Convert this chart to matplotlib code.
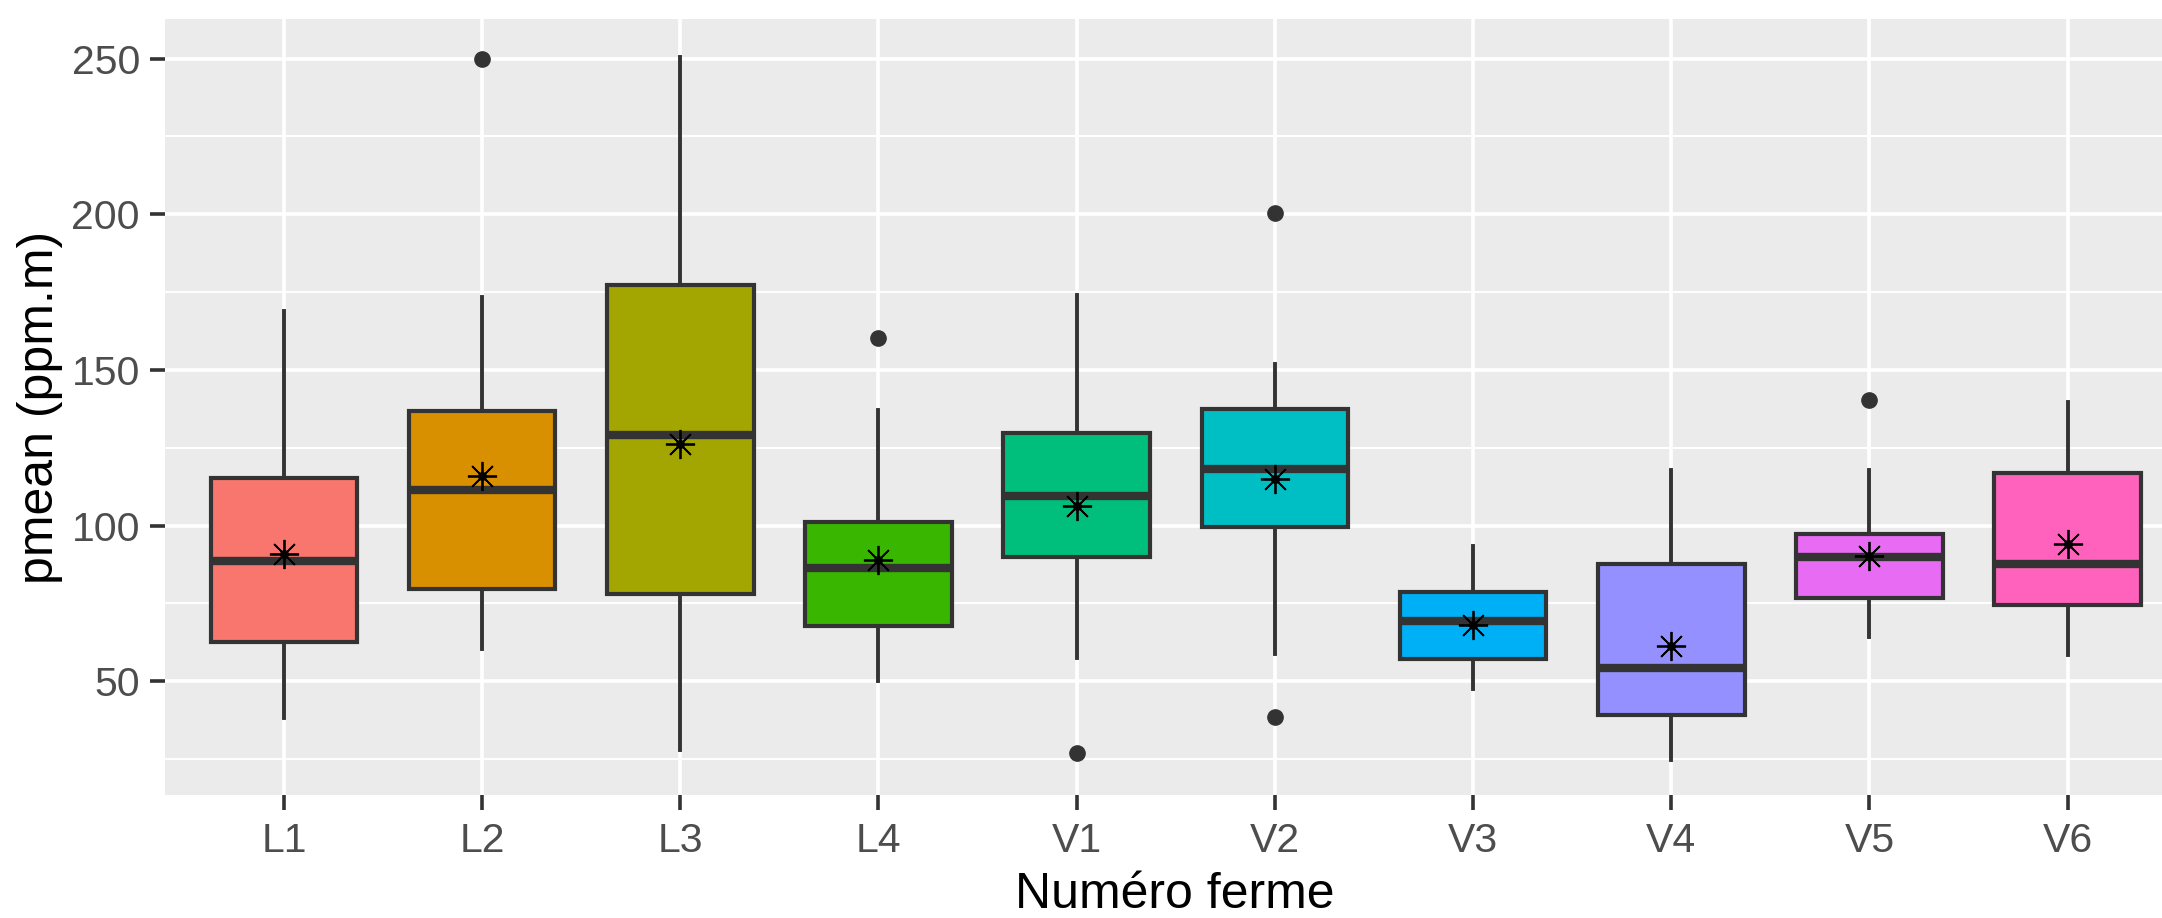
import matplotlib
matplotlib.use("Agg")
import matplotlib.pyplot as plt

# values
farms = ["L1", "L2", "L3", "L4", "V1", "V2", "V3", "V4", "V5", "V6"]
whisker_low = [38.2, 60.3, 28.0, 50.0, 57.5, 58.8, 47.6, 24.6, 64.1, 58.5]
q1 = [62.6, 79.7, 78.0, 67.9, 89.9, 99.5, 57.2, 39.1, 76.7, 74.4]
median = [88.6, 111.5, 129.2, 86.3, 109.6, 118.2, 69.4, 54.3, 90.0, 87.6]
q3 = [115.3, 136.7, 177.3, 101.2, 129.9, 137.4, 78.8, 87.6, 97.4, 116.8]
whisker_high = [168.8, 173.5, 250.6, 137.0, 174.1, 151.9, 93.6, 118.0, 118.0, 139.7]
means = [91.0, 116.0, 126.1, 89.0, 106.2, 114.9, 68.2, 61.3, 90.4, 94.2]
outliers = [[], [249.9], [], [160.4], [26.9], [200.4, 38.7], [], [], [140.3], []]

colors = ["#F8766D", "#D89000", "#A3A500", "#39B600", "#00BF7D",
          "#00BFC4", "#00B0F6", "#9590FF", "#E76BF3", "#FF62BC"]

plt.rcParams['font.family'] = ['Liberation Sans', 'DejaVu Sans']

fig = plt.figure(figsize=(21.62, 9.18), dpi=100)
ax = fig.add_axes([0.0763, 0.134, 0.9237, 0.8453])
ax.set_facecolor("#EBEBEB")

stats = []
for i in range(len(farms)):
    stats.append({
        "label": farms[i], "whislo": whisker_low[i], "q1": q1[i], "med": median[i],
        "q3": q3[i], "whishi": whisker_high[i], "mean": means[i], "fliers": outliers[i],
    })

positions = list(range(1, len(farms) + 1))
bp = ax.bxp(
    stats, positions=positions, widths=0.74, patch_artist=True,
    showcaps=False, showmeans=True, manage_ticks=False, zorder=3,
    boxprops=dict(edgecolor="#333333", linewidth=3.0),
    medianprops=dict(color="#333333", linewidth=6, solid_capstyle="butt"),
    whiskerprops=dict(color="#333333", linewidth=2.8),
    flierprops=dict(marker="o", markerfacecolor="#333333", markeredgecolor="#333333",
                    markersize=11),
    meanprops=dict(marker=(8, 2, 0), markeredgecolor="black", markerfacecolor="black",
                   markersize=21, markeredgewidth=1.3),
)
for patch, c in zip(bp["boxes"], colors):
    patch.set_facecolor(c)
ax.scatter(positions, means, s=30, color="black", zorder=5)

ax.set_xlim(0.4, 10.476)
ax.set_ylim(13.5, 262.7)
ax.set_xticks(positions)
ax.set_xticklabels(farms)
ax.set_yticks([50, 100, 150, 200, 250])
ax.set_yticks([25, 75, 125, 175, 225], minor=True)

ax.grid(which="major", color="white", linewidth=2.6, zorder=0)
ax.grid(which="minor", axis="y", color="white", linewidth=1.4, zorder=0)
ax.set_axisbelow(True)
for s in ax.spines.values():
    s.set_visible(False)

ax.tick_params(axis="both", which="major", length=10.5, width=2.6, color="#333333",
               labelsize=29.5, labelcolor="#4D4D4D")
ax.tick_params(axis="x", pad=9)
ax.tick_params(axis="y", pad=7.5)
ax.tick_params(which="minor", length=0)

ax.set_xlabel("Numéro ferme", fontsize=36, color="black")
ax.set_ylabel("pmean (ppm.m)", fontsize=36, color="black")
ax.xaxis.set_label_coords(0.5056, -0.099)
ax.yaxis.set_label_coords(-0.051, 0.5)

fig.savefig("out.png", dpi=100)
plt.close(fig)
